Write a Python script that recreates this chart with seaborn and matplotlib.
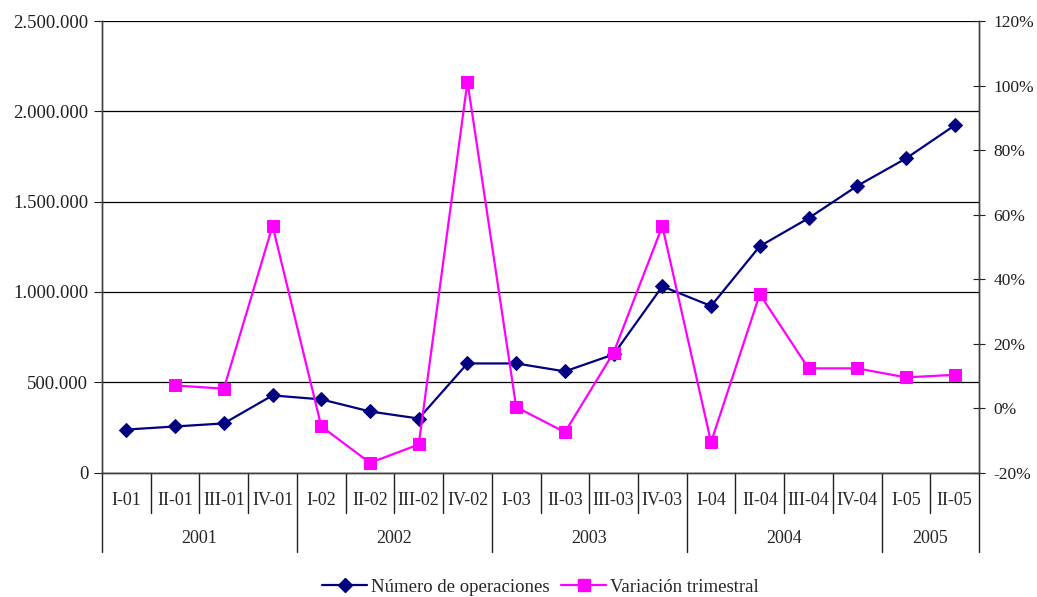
import numpy as np
import matplotlib
matplotlib.use('Agg')
import matplotlib.pyplot as plt
import matplotlib.ticker as mticker
from matplotlib.lines import Line2D
import seaborn as sns

# quarters and their year groups
quarters = ['I-01', 'II-01', 'III-01', 'IV-01',
            'I-02', 'II-02', 'III-02', 'IV-02',
            'I-03', 'II-03', 'III-03', 'IV-03',
            'I-04', 'II-04', 'III-04', 'IV-04',
            'I-05', 'II-05']
years = ['2001', '2002', '2003', '2004', '2005']
quarters_per_year = [4, 4, 4, 4, 2]

# Número de operaciones (left axis)
operaciones = [238000, 255000, 272000, 427000,
               405000, 338000, 299000, 604000,
               604000, 560000, 654000, 1031000,
               922000, 1253000, 1408000, 1587000,
               1739000, 1922000]

# Variación trimestral (right axis, %)
variacion = [np.nan, 7.0, 6.0, 56.5,
             -5.7, -17.0, -11.3, 101.2,
             0.3, -7.5, 17.2, 56.4,
             -10.6, 35.3, 12.3, 12.3,
             9.5, 10.3]

NAVY = '#000080'
MAGENTA = '#FF00FF'

sns.set_style('white')
plt.rcParams['font.family'] = ['Liberation Serif', 'DejaVu Serif']
plt.rcParams['font.size'] = 13

fig = plt.figure(figsize=(10.37, 5.97), dpi=100)
ax = fig.add_axes([0.0984, 0.2085, 0.8457, 0.7563])
ax2 = ax.twinx()

xpos = np.arange(len(quarters))

sns.lineplot(x=xpos, y=operaciones, ax=ax, color=NAVY, linewidth=1.6,
             marker='D', markersize=7, markeredgecolor=NAVY, zorder=3)
sns.lineplot(x=xpos, y=variacion, ax=ax2, color=MAGENTA, linewidth=1.6,
             marker='s', markersize=8, markeredgecolor=MAGENTA, zorder=3)

ax.set_xlim(-0.5, len(quarters) - 0.5)
ax.set_ylim(0, 2500000)
ax.set_yticks(np.arange(0, 2500001, 500000))
ax.yaxis.set_major_formatter(mticker.FuncFormatter(
    lambda v, p: f'{int(v):,}'.replace(',', '.')))
ax2.set_ylim(-20, 120)
ax2.set_yticks(np.arange(-20, 121, 20))
ax2.yaxis.set_major_formatter(mticker.FuncFormatter(lambda v, p: f'{int(v)}%'))

ax.grid(True, axis='y', color='black', linewidth=0.9)
ax.set_axisbelow(True)
ax2.grid(False)

for a in (ax, ax2):
    for side in ('left', 'right', 'bottom'):
        a.spines[side].set_visible(True)
        a.spines[side].set_color('#404040')
        a.spines[side].set_linewidth(1.0)
    a.spines['top'].set_visible(False)

ax.tick_params(axis='y', left=True, direction='out', length=6, width=0.8,
               labelsize=13.5, pad=4, colors='#202020')
ax2.tick_params(axis='y', right=True, direction='inout', length=9, width=0.8,
                labelsize=12.5, pad=6, colors='#202020')
ax.set_xticks([])
ax2.set_xticks([])
ax.set_xlabel('')
ax.set_ylabel('')
ax2.set_ylabel('')

# multi-level category axis
trans = ax.get_xaxis_transform()
line_kw = dict(color='#202020', linewidth=1.0, transform=trans, clip_on=False)
year_bounds = np.concatenate([[0], np.cumsum(quarters_per_year)]) - 0.5
for b in np.arange(len(quarters) + 1) - 0.5:
    depth = -0.176 if np.any(np.isclose(year_bounds, b)) else -0.0897
    ax.plot([b, b], [0, depth], **line_kw)
for i, q in enumerate(quarters):
    ax.text(xpos[i], -0.063, q, transform=trans, ha='center', va='center',
            fontsize=13)
for y, lo, hi in zip(years, year_bounds[:-1], year_bounds[1:]):
    ax.text((lo + hi) / 2, -0.147, y, transform=trans, ha='center',
            va='center', fontsize=13)

handles = [Line2D([], [], color=NAVY, marker='D', markersize=7, linewidth=1.6),
           Line2D([], [], color=MAGENTA, marker='s', markersize=8, linewidth=1.6)]
ax.legend(handles, ['Número de operaciones', 'Variación trimestral'],
          loc='center', bbox_to_anchor=(0.5, -0.254), ncol=2, frameon=False,
          fontsize=13.5, handlelength=2.4, handletextpad=0.2, columnspacing=0.6)

fig.savefig('out.png', dpi=100)
